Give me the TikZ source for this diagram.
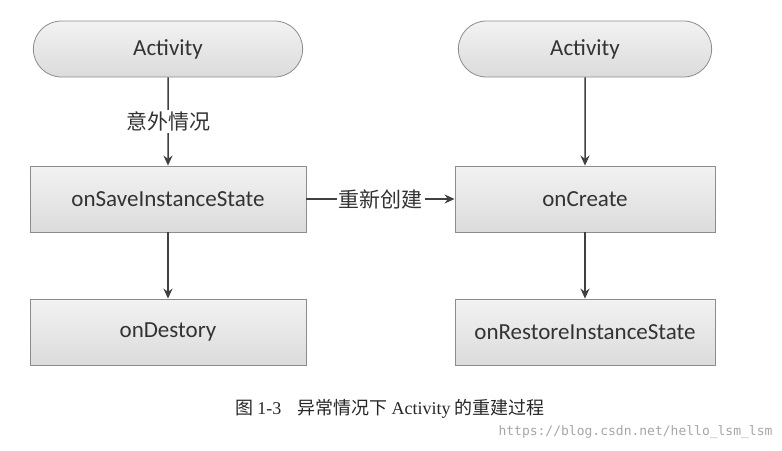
\documentclass[tikz,border=0pt]{standalone}
\usepackage{fontspec}
\setmainfont{Carlito}
\newfontfamily\cjk{Noto Sans CJK SC}
\newfontfamily\capfont{Liberation Serif}
\newfontfamily\wm{DejaVu Sans Mono}
\usetikzlibrary{arrows.meta,shapes.misc}
\begin{document}
\begin{tikzpicture}[x=1pt,y=-1pt,
  box/.style={draw=black!45,line width=0.8pt,top color=black!5,bottom color=black!14,minimum width=276pt,minimum height=66pt,font=\fontsize{23}{26}\selectfont,text=black!80},
  pill/.style={box,rounded rectangle,minimum height=56pt},
  arr/.style={-{Stealth[length=10pt,width=9pt]},line width=1.5pt,black!75},
  lbl/.style={font=\cjk\fontsize{21}{23}\selectfont,text=black!80,fill=white,inner sep=2pt}]
\useasboundingbox (0,0) rectangle (782,450);
\node[pill] (a1) at (168,49) {Activity};
\node[box] (s) at (168,199) {onSaveInstanceState};
\node[box] (d) at (168,332) {onDestory};
\node[pill,minimum width=260pt] (a2) at (585,49) {Activity};
\node[box,minimum width=260pt] (c) at (585,199) {onCreate};
\node[box,minimum width=260pt] (r) at (585,332) {onRestoreInstanceState};
\draw[arr] (a1) -- node[lbl]{意外情况} (s);
\draw[arr] (s) -- (d);
\draw[arr] (s) -- node[lbl]{重新创建} (c);
\draw[arr] (a2) -- (c);
\draw[arr] (c) -- (r);
\node[font=\fontsize{18}{20}\selectfont,text=black!85] (cap) at (390,409) {{\cjk 图} {\capfont 1-3}\hspace{16pt}{\cjk 异常情况下} {\capfont Activity} {\cjk 的重建过程}};
\node[font=\wm\fontsize{13}{15}\selectfont,text=black!35,anchor=east] (w) at (776,432) {https://blog.csdn.net/hello\_lsm\_lsm};
\end{tikzpicture}
\end{document}
